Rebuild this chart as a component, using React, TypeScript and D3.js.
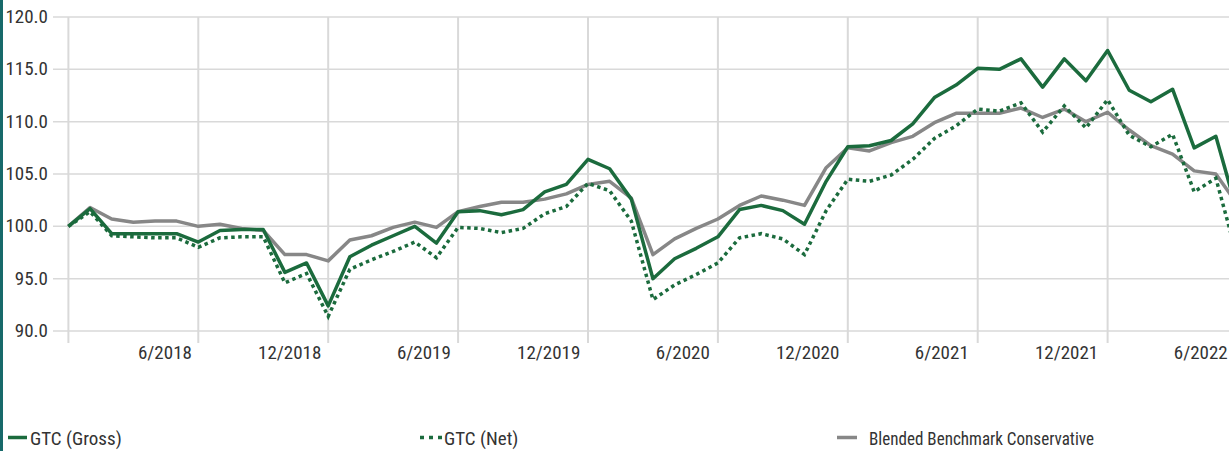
import React from "react";
import * as d3 from "d3";

const months: string[] = [
  "12/2017",
  "1/2018","2/2018","3/2018","4/2018","5/2018","6/2018","7/2018","8/2018","9/2018","10/2018","11/2018","12/2018",
  "1/2019","2/2019","3/2019","4/2019","5/2019","6/2019","7/2019","8/2019","9/2019","10/2019","11/2019","12/2019",
  "1/2020","2/2020","3/2020","4/2020","5/2020","6/2020","7/2020","8/2020","9/2020","10/2020","11/2020","12/2020",
  "1/2021","2/2021","3/2021","4/2021","5/2021","6/2021","7/2021","8/2021","9/2021","10/2021","11/2021","12/2021",
  "1/2022","2/2022","3/2022","4/2022","5/2022","6/2022",
];

const gross: number[] = [
  100.0, 101.7, 99.3, 99.3, 99.3, 99.3, 98.5, 99.6, 99.7, 99.7, 95.6, 96.5, 92.4,
  97.1, 98.2, 99.1, 100.0, 98.4, 101.4, 101.5, 101.1, 101.6, 103.3, 104.0, 106.4,
  105.5, 102.6, 95.0, 96.9, 97.9, 99.0, 101.6, 102.0, 101.5, 100.2, 104.3, 107.6,
  107.7, 108.2, 109.8, 112.3, 113.5, 115.1, 115.0, 116.0, 113.3, 116.0, 113.9, 116.8,
  113.0, 111.9, 113.1, 107.5, 108.6, 101.3,
];

const net: number[] = [
  100.0, 101.4, 99.1, 99.0, 98.9, 98.9, 98.0, 98.9, 99.0, 99.0, 94.6, 95.5, 91.4,
  95.9, 96.8, 97.6, 98.5, 97.0, 99.9, 99.8, 99.4, 99.8, 101.2, 101.9, 104.1,
  103.4, 100.5, 93.0, 94.4, 95.4, 96.5, 98.9, 99.3, 98.8, 97.3, 101.5, 104.5,
  104.3, 104.9, 106.4, 108.4, 109.6, 111.2, 111.0, 111.8, 109.0, 111.5, 109.4, 112.1,
  108.7, 107.6, 108.8, 103.3, 104.6, 97.0,
];

const benchmark: number[] = [
  100.0, 101.8, 100.7, 100.4, 100.5, 100.5, 100.0, 100.2, 99.8, 99.6, 97.3, 97.3, 96.7,
  98.7, 99.1, 99.9, 100.4, 99.9, 101.4, 101.9, 102.3, 102.3, 102.6, 103.1, 104.0,
  104.3, 102.7, 97.3, 98.8, 99.8, 100.7, 102.0, 102.9, 102.5, 102.0, 105.6, 107.5,
  107.2, 108.0, 108.6, 109.9, 110.8, 110.8, 110.8, 111.3, 110.4, 111.2, 110.0, 110.9,
  109.2, 107.7, 106.9, 105.3, 105.0, 102.1,
];

const yTicks: number[] = [90, 95, 100, 105, 110, 115, 120];
const xTickLabels: string[] = ["12/2017", "6/2018", "12/2018", "6/2019", "12/2019", "6/2020", "12/2020", "6/2021", "12/2021", "6/2022"];

const W = 1229;
const H = 451;
const FONT = "'Liberation Sans Narrow', 'Roboto Condensed', 'DejaVu Sans Condensed', sans-serif";
const GREEN = "#1b6b3d";
const GRAY = "#878787";
const GRID = "#d9d9d9";
const TEXT = "#333333";

export default function App() {
  const x = d3.scaleLinear().domain([0, months.length - 1]).range([68.4, 68.4 + 21.65 * (months.length - 1)]);
  const y = d3.scaleLinear().domain([90, 120]).range([331, 17]);
  const line = d3
    .line<number>()
    .x((_, i) => x(i))
    .y((d) => y(d));

  const tickIdx = xTickLabels.map((l) => months.indexOf(l));

  return (
    <svg
      width={W}
      height={H}
      style={{ position: "absolute", left: 0, top: 0, background: "#fff", overflow: "hidden" }}
      fontFamily={FONT}
    >
      <rect x={0} y={0} width={W} height={H} fill="#fff" />
      <rect x={0} y={0} width={3} height={H} fill="#17696a" />
      {yTicks.map((t) => (
        <g key={t}>
          <line x1={53} x2={W} y1={y(t)} y2={y(t)} stroke={GRID} strokeWidth={1.5} />
          <text x={48} y={y(t) + 6} textAnchor="end" fontSize={19} fill={TEXT}>
            {t.toFixed(1)}
          </text>
        </g>
      ))}
      {tickIdx.map((i, k) => (
        <g key={k}>
          <line x1={x(i)} x2={x(i)} y1={17} y2={343} stroke={GRID} strokeWidth={2} />
          {k > 0 && (
            <text x={x(i) - 6.4 - 0.42 * (k - 1)} y={359} textAnchor="end" fontSize={19} fill={TEXT}>
              {xTickLabels[k]}
            </text>
          )}
        </g>
      ))}
      <path d={line(benchmark) || ""} fill="none" stroke={GRAY} strokeWidth={3.5} strokeLinejoin="round" />
      <path d={line(net) || ""} fill="none" stroke={GREEN} strokeWidth={3.5} strokeDasharray="3.5 3.5" />
      <path d={line(gross) || ""} fill="none" stroke={GREEN} strokeWidth={3.5} strokeLinejoin="round" />

      <line x1={8} x2={27} y1={437.5} y2={437.5} stroke={GREEN} strokeWidth={3.5} />
      <text x={30} y={445} fontSize={19} fill={TEXT}>GTC (Gross)</text>
      <line x1={420} x2={442} y1={437.5} y2={437.5} stroke={GREEN} strokeWidth={3.5} strokeDasharray="4 5" />
      <text x={444} y={445} fontSize={19} fill={TEXT}>GTC (Net)</text>
      <line x1={837} x2={857} y1={437.5} y2={437.5} stroke={GRAY} strokeWidth={3.5} />
      <text x={869} y={445} fontSize={18.5} fill={TEXT} textLength={225} lengthAdjust="spacingAndGlyphs">
        Blended Benchmark Conservative
      </text>
    </svg>
  );
}
